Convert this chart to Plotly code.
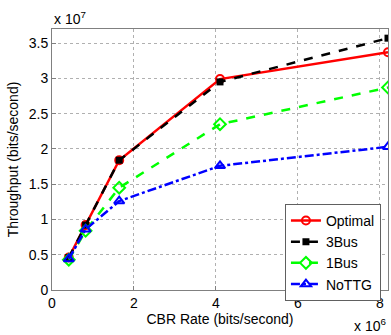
import plotly.graph_objects as go

cbr_rate = [0.41e6, 0.82e6, 1.64e6, 4.1e6, 8.2e6]
optimal = [0.46e7, 0.92e7, 1.84e7, 2.99e7, 3.37e7]
bus3 = [0.46e7, 0.92e7, 1.84e7, 2.95e7, 3.57e7]
bus1 = [0.43e7, 0.84e7, 1.45e7, 2.35e7, 2.87e7]
nottg = [0.44e7, 0.86e7, 1.26e7, 1.76e7, 2.03e7]

x_ticks = [0, 2e6, 4e6, 6e6, 8e6]
x_ticktext = ["0", "2", "4", "6", "8"]
y_ticks = [0, 0.5e7, 1e7, 1.5e7, 2e7, 2.5e7, 3e7, 3.5e7]
y_ticktext = ["0", "0.5", "1", "1.5", "2", "2.5", "3", "3.5"]

FONT = "Liberation Sans, Arial, sans-serif"
FS = 14

fig = go.Figure()
fig.add_trace(go.Scatter(x=cbr_rate, y=optimal, name="Optimal", mode="lines+markers",
                         line=dict(color="#ff0000", width=2.5),
                         marker=dict(symbol="circle-open", size=8, color="#ff0000", line=dict(width=2))))
fig.add_trace(go.Scatter(x=cbr_rate, y=bus3, name="3Bus", mode="lines+markers",
                         line=dict(color="#000000", width=2.5, dash="dash"),
                         marker=dict(symbol="square", size=7, color="#000000")))
fig.add_trace(go.Scatter(x=cbr_rate, y=bus1, name="1Bus", mode="lines+markers",
                         line=dict(color="#00ff00", width=2.5, dash="dash"),
                         marker=dict(symbol="diamond-open", size=9, color="#00ff00", line=dict(width=2))))
fig.add_trace(go.Scatter(x=cbr_rate, y=nottg, name="NoTTG", mode="lines+markers",
                         line=dict(color="#0000ff", width=2.5, dash="dashdot"),
                         marker=dict(symbol="triangle-up-open", size=9, color="#0000ff", line=dict(width=2))))

axis_common = dict(showline=True, linecolor="#808080", linewidth=1, mirror=True,
                   showgrid=True, gridcolor="#b0b0b0", griddash="dot", gridwidth=1,
                   ticks="inside", ticklen=4, tickcolor="#808080", zeroline=False,
                   tickfont=dict(family=FONT, size=FS, color="#000000"))

fig.update_xaxes(range=[0, 8.2e6], tickvals=x_ticks, ticktext=x_ticktext,
                 title=dict(text="CBR Rate (bits/second)", font=dict(family=FONT, size=FS, color="#000"), standoff=4),
                 **axis_common)
fig.update_yaxes(range=[0, 3.7e7], tickvals=y_ticks, ticktext=y_ticktext,
                 title=dict(text="Throughput (bits/second)", font=dict(family=FONT, size=FS, color="#000"), standoff=6),
                 **axis_common)

fig.add_annotation(text="x 10<sup>7</sup>", xref="paper", yref="paper", x=0, y=1.0,
                   xanchor="left", yanchor="bottom", showarrow=False,
                   font=dict(family=FONT, size=FS, color="#000"))
fig.add_annotation(text="x 10<sup>6</sup>", xref="paper", yref="paper", x=1.0, y=0,
                   xanchor="right", yanchor="top", yshift=-24, showarrow=False,
                   font=dict(family=FONT, size=FS, color="#000"))

fig.update_layout(width=391, height=335, margin=dict(l=52, r=3, t=29, b=45),
                  plot_bgcolor="white", paper_bgcolor="white",
                  legend=dict(x=0.979, y=0.33, xanchor="right", yanchor="top",
                              bordercolor="#606060", borderwidth=1, bgcolor="white",
                              font=dict(family=FONT, size=FS, color="#000"),
                              tracegroupgap=0, itemwidth=30),
                  showlegend=True)

fig.write_html("out.html")
